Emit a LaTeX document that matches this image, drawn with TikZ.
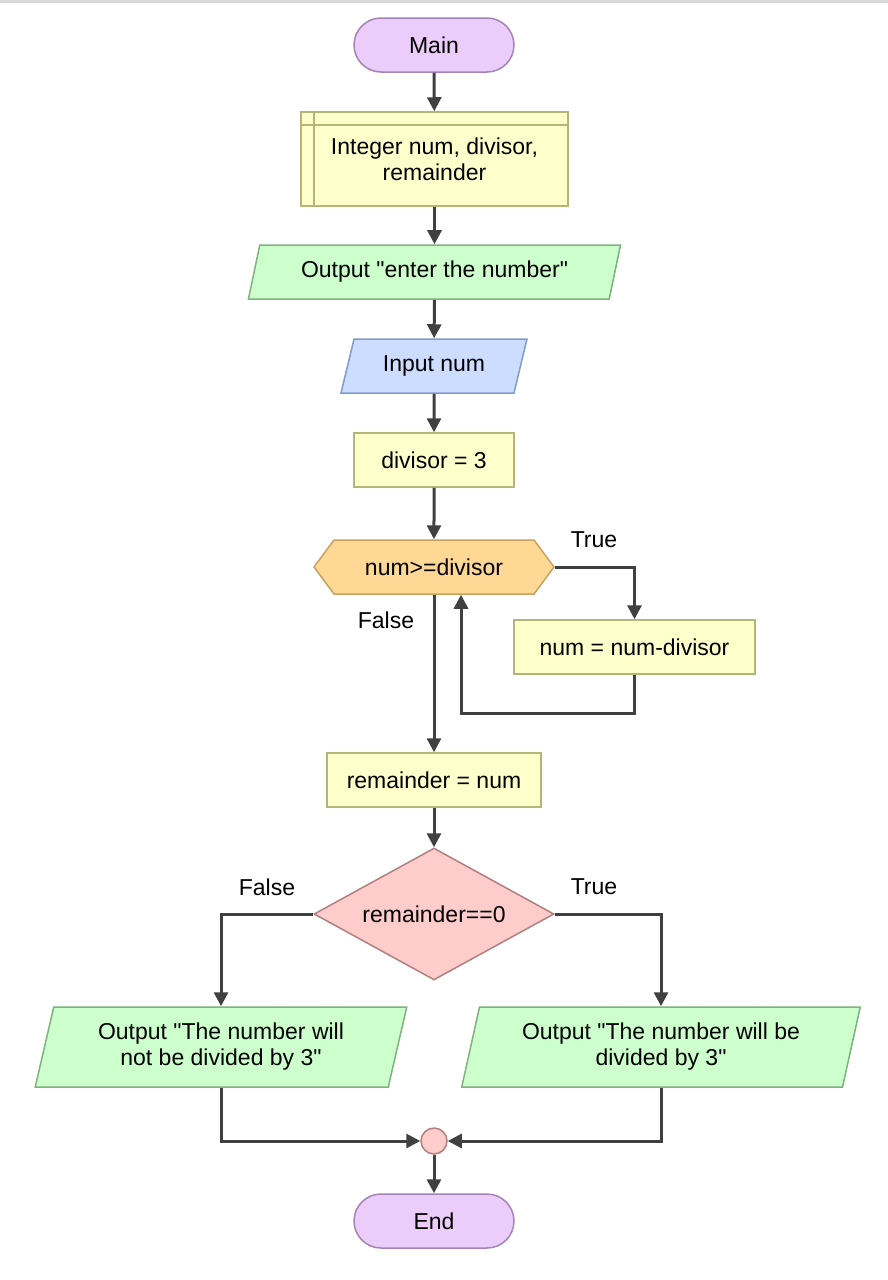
\documentclass[tikz,border=0pt]{standalone}
\usepackage{fontspec}
\setmainfont{Liberation Sans}[Ligatures=TeXOff]
\usetikzlibrary{shapes.geometric,shapes.symbols,arrows.meta}
\definecolor{Cterm}{HTML}{EBCCFA}
\definecolor{Ctermb}{HTML}{A583B5}
\definecolor{Cproc}{HTML}{FFFFCC}
\definecolor{Cprocb}{HTML}{B5B57A}
\definecolor{Cout}{HTML}{CCFFCC}
\definecolor{Coutb}{HTML}{7FB27F}
\definecolor{Cin}{HTML}{CCDDFF}
\definecolor{Cinb}{HTML}{7E9BCC}
\definecolor{Cloop}{HTML}{FFD896}
\definecolor{Cloopb}{HTML}{C9A15E}
\definecolor{Cdec}{HTML}{FFCCCC}
\definecolor{Cdecb}{HTML}{B07F7F}
\definecolor{Cline}{HTML}{404040}
\tikzset{%
    Fbase/.style={line width=1.5pt, inner sep=0pt, align=center, font=\fontsize{23}{26}\selectfont},
    Fterm/.style={Fbase, draw=Ctermb, fill=Cterm, rounded corners=27pt, minimum width=160pt, minimum height=54pt},
    Fproc/.style={Fbase, draw=Cprocb, fill=Cproc, minimum width=#1, minimum height=54pt}, Fproc/.default={160pt},
    Fdecl/.style={Fbase, draw=Cprocb, fill=Cproc, minimum width=267pt, minimum height=94pt,
        path picture={\draw[Cprocb, line width=1.5pt]
            ([xshift=13pt]path picture bounding box.north west) -- ([xshift=13pt]path picture bounding box.south west)
            ([yshift=-13pt]path picture bounding box.north west) -- ([yshift=-13pt]path picture bounding box.north east);}},
    Fpar/.style={Fbase, trapezium, trapezium stretches=true, trapezium left angle=#1, trapezium right angle=180-#1},
    Fout/.style={Fpar=#1, draw=Coutb, fill=Cout}, Fout/.default={68},
    Fin/.style={Fpar=68, draw=Cinb, fill=Cin},
    Floop/.style={Fbase, draw=Cloopb, fill=Cloop, signal, signal to=west and east, signal pointer angle=107,
        minimum width=240pt, minimum height=54pt},
    Fdec/.style={Fbase, draw=Cdecb, fill=Cdec, diamond, aspect=1.818, minimum width=240pt, minimum height=132pt},
    Fjoin/.style={draw=Cdecb, fill=Cdec, line width=1.5pt, circle, inner sep=0pt, minimum size=26pt},
    Flabel/.style={font=\fontsize{23}{26}\selectfont, inner sep=0pt},
    Fline/.style={draw=Cline, line width=3pt, -{Triangle[length=14pt,width=14pt]}}
}
\begin{document}
\begin{tikzpicture}[x=1pt,y=-1pt]
    \useasboundingbox (0,0) rectangle (888,1280);
    \fill[black!15] (0,0) rectangle (888,3);
    \node[Fterm] (Nmain) at (434,45) {Main};
    \node[Fdecl] (Ndecl) at (434.5,159) {Integer num, divisor,\\remainder};
    \node[Fout, minimum width=373pt, minimum height=54pt] (Nask) at (434.5,272) {Output "enter the number"};
    \node[Fin, minimum width=186pt, minimum height=54pt] (Nread) at (434,366) {Input num};
    \node[Fproc] (Nset) at (434,460) {divisor = 3};
    \node[Floop] (Nloop) at (434,567) {num>=divisor};
    \node[Fproc=241pt] (Nsub) at (634.5,647) {num = num-divisor};
    \node[Fproc=214pt] (Nrem) at (434,780) {remainder = num};
    \node[Fdec] (Ndec) at (434,914) {remainder==0};
    \node[Fout=74, minimum width=373pt, minimum height=80pt] (Nno) at (221,1047) {Output "The number will\\not be divided by 3"};
    \node[Fout=74, minimum width=400pt, minimum height=80pt] (Nyes) at (661,1047) {Output "The number will be\\divided by 3"};
    \node[Fjoin] (Njoin) at (434,1141) {};
    \node[Fterm] (Nend) at (434,1221) {End};
    \node[Flabel] (Ltrue) at (594,540) {True};
    \node[Flabel] (Lfalse) at (386,620) {False};
    \node[Flabel] (Lno) at (267,887) {False};
    \node[Flabel] (Lyes) at (594,887) {True};
    \coordinate (Cback) at (461,713);
    \draw[Fline] (Nmain) -- (Ndecl);
    \draw[Fline] (Ndecl) -- (Nask);
    \draw[Fline] (Nask) -- (Nread);
    \draw[Fline] (Nread) -- (Nset);
    \draw[Fline] (Nset) -- (Nloop);
    \draw[Fline] (Nloop.east) -| (Nsub.north);
    \draw[Fline] (Nsub.south) |- (Cback) -- (Cback |- Nloop.south);
    \draw[Fline] (Nloop.south) -- (Nrem.north);
    \draw[Fline] (Nrem) -- (Ndec);
    \draw[Fline] (Ndec.west) -| (Nno.north);
    \draw[Fline] (Ndec.east) -| (Nyes.north);
    \draw[Fline] (Nno.south) |- (Njoin.west);
    \draw[Fline] (Nyes.south) |- (Njoin.east);
    \draw[Fline] (Njoin) -- (Nend);
\end{tikzpicture}
\end{document}
